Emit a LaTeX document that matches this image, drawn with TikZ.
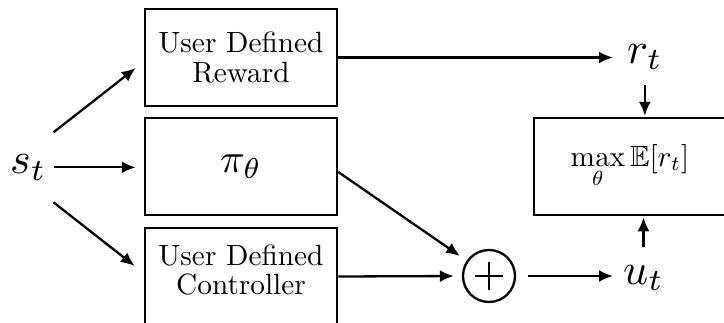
\documentclass[tikz,border=0pt]{standalone}
\usepackage{amssymb}
\usepackage{graphicx}
\usetikzlibrary{arrows.meta,calc}
\newcommand{\boxtxt}[1]{\scalebox{2.93}{\fontsize{10}{10.2}\selectfont\begin{tabular}{@{}c@{}}#1\end{tabular}}}
\newcommand{\bigmath}[2]{\scalebox{#1}{$#2$}}
\begin{document}
\begin{tikzpicture}[x=1pt,y=-1pt,
  box/.style={draw,line width=2.5pt,minimum width=192pt,minimum height=97pt,inner sep=0pt},
  lbl/.style={inner sep=0pt},
  conn/.style={line width=2.3pt,-{Latex[length=14pt,width=12pt]}},
  sumnode/.style={draw,circle,line width=2.3pt,minimum size=52pt,inner sep=0pt}]
\useasboundingbox (0,0) rectangle (724,322);
% boxes
\node[box] (rew) at (241,57.5) {};
\node[box] (pi) at (241,166.5) {\bigmath{4.1}{\pi_\theta}};
\node[box] (ctrl) at (241,276.5) {};
\node[box] (maxb) at (630,166.5) {\bigmath{2.93}{\displaystyle\max_{\theta}\mathbb{E}[r_t]}};
\node[lbl] (rewtxt) at (241,61.8) {\boxtxt{User Defined\\Reward}};
\node[lbl] (ctrltxt) at (241,274) {\boxtxt{User Defined\\Controller}};
% labels
\node[lbl,anchor=base west] (st) at (10,173.5) {\bigmath{4.4}{s_t}};
\node[lbl,anchor=base west] (rt) at (627,63) {\bigmath{4.4}{r_t}};
\node[lbl,anchor=base west] (ut) at (623,284) {\bigmath{4.4}{u_t}};
% sum
\node[sumnode] (circ) at (489,276) {};
\draw[line width=2.3pt] ($(circ.center)+(-14,0)$) -- ($(circ.center)+(14,0)$);
\draw[line width=2.3pt] ($(circ.center)+(0,-14)$) -- ($(circ.center)+(0,14)$);
% connectors
\draw[conn,shorten <=7pt,shorten >=8pt] (st.east) -- (st.east -| pi.west);
\draw[conn] ($(st.east)+(7,-35)$) -- ($(rew.west)+(-8,10.5)$);
\draw[conn] ($(st.east)+(7,35)$) -- ($(ctrl.west)+(-9,-10.5)$);
\draw[conn,shorten >=14pt] (rew.east) -- (rew.east -| rt.west);
\draw[conn,shorten <=15pt,shorten >=1pt] (rt.south) -- (rt.south |- maxb.north);
\draw[conn,shorten <=18pt,shorten >=1pt] (ut.north) -- (ut.north |- maxb.south);
\draw[conn,shorten >=8pt] ([yshift=-5.5pt]pi.east) -- (circ);
\draw[conn,shorten >=8pt] (ctrl.east) -- (circ.west);
\draw[conn,shorten <=12pt,shorten >=10pt] (circ.east) -- (circ.east -| ut.west);
\end{tikzpicture}
\end{document}
